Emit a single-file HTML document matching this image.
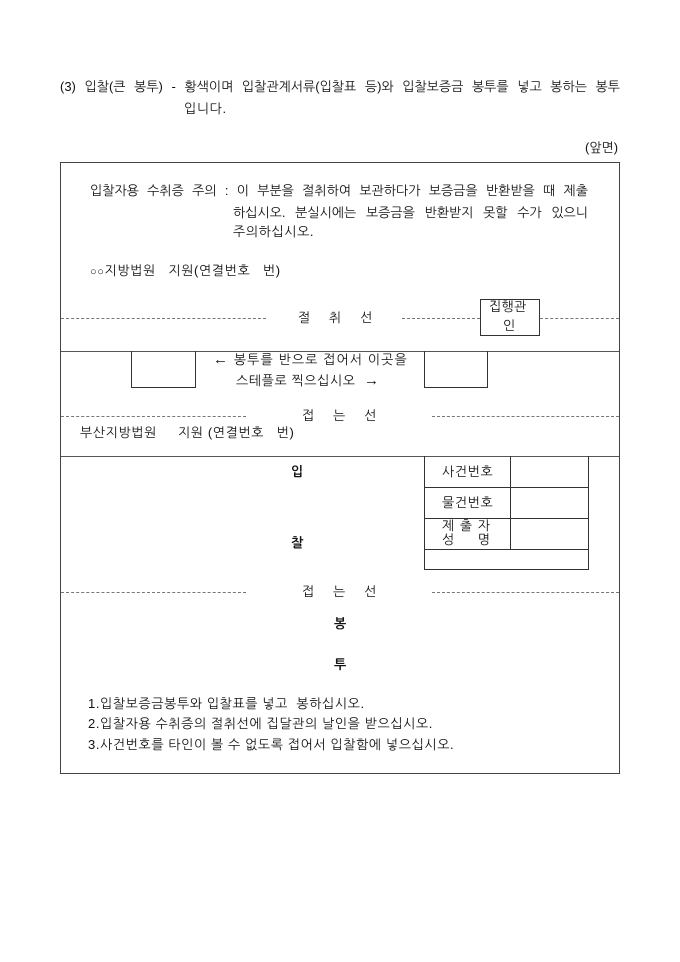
<!DOCTYPE html>
<html><head><meta charset="utf-8"><style>
body{margin:0;background:#fff;width:680px;height:962px;position:relative;overflow:hidden;font-family:"Liberation Sans","NanumGothic","Noto Sans CJK KR",sans-serif;font-size:13px;color:#111}
.t{position:absolute;white-space:nowrap;line-height:16px;letter-spacing:0.6px}
.j{position:absolute;white-space:nowrap;line-height:16px;text-align:justify;text-align-last:justify}
.b{position:absolute;border:1px solid #333;box-sizing:border-box}
.h{position:absolute;height:0;border-top:1px solid #555}
.d{position:absolute;height:0;border-top:1px dashed #777}
.v{position:absolute;width:0;border-left:1px solid #333}
</style></head><body>
<div class="j" style="left:60px;top:79px;width:560px">(3) 입찰(큰 봉투) - 황색이며 입찰관계서류(입찰표 등)와 입찰보증금 봉투를 넣고 봉하는 봉투</div>
<div class="t" style="left:184px;top:101px">입니다.</div>
<div class="t" style="left:585px;top:140px;letter-spacing:0">(앞면)</div>

<div class="b" style="left:60px;top:162px;width:560px;height:612px;border-color:#444"></div>

<div class="j" style="left:90px;top:183px;width:498px">입찰자용 수취증 주의 : 이 부분을 절취하여 보관하다가 보증금을 반환받을 때 제출</div>
<div class="j" style="left:233px;top:205px;width:355px">하십시오. 분실시에는 보증금을 반환받지 못할 수가 있으니</div>
<div class="t" style="left:233px;top:224px">주의하십시오.</div>
<div class="t" style="left:90px;top:263px"><span style="font-size:11px">○○</span>지방법원 &nbsp;&nbsp;지원(연결번호 &nbsp;&nbsp;번)</div>

<div class="d" style="left:61px;top:318px;width:205px"></div>
<div class="t" style="left:298px;top:310px;word-spacing:14px">절 취 선</div>
<div class="d" style="left:402px;top:318px;width:78px"></div>
<div class="b" style="left:480px;top:299px;width:60px;height:37px"></div>
<div class="t" style="left:489px;top:299px;letter-spacing:0.3px">집행관</div>
<div class="t" style="left:503px;top:318px">인</div>
<div class="d" style="left:540px;top:318px;width:79px"></div>

<div class="h" style="left:61px;top:351px;width:558px"></div>
<div class="b" style="left:131px;top:351px;width:65px;height:37px;border-top:none"></div>
<div class="b" style="left:424px;top:351px;width:64px;height:37px;border-top:none"></div>
<div class="t" style="left:213px;top:352px;letter-spacing:1.1px"><span style="font-size:15px">←</span> 봉투를 반으로 접어서 이곳을</div>
<div class="t" style="left:236px;top:373px">스테플로 찍으십시오 &nbsp;<span style="font-size:15px">→</span></div>

<div class="d" style="left:61px;top:416px;width:185px"></div>
<div class="t" style="left:302px;top:408px;word-spacing:14px">접 는 선</div>
<div class="d" style="left:432px;top:416px;width:187px"></div>
<div class="t" style="left:80px;top:425px">부산지방법원 &nbsp;&nbsp;&nbsp;&nbsp;지원 (연결번호 &nbsp;&nbsp;번)</div>

<div class="h" style="left:61px;top:456px;width:558px"></div>
<div class="t" style="left:291px;top:464px;font-weight:bold">입</div>
<div class="t" style="left:291px;top:535px;font-weight:bold">찰</div>

<div class="v" style="left:424px;top:456px;height:114px"></div>
<div class="v" style="left:510px;top:456px;height:93px"></div>
<div class="v" style="left:588px;top:456px;height:114px"></div>
<div class="h" style="left:424px;top:487px;width:165px;border-color:#333"></div>
<div class="h" style="left:424px;top:518px;width:165px;border-color:#333"></div>
<div class="h" style="left:424px;top:549px;width:165px;border-color:#333"></div>
<div class="h" style="left:424px;top:569px;width:165px;border-color:#333"></div>
<div class="t" style="left:442px;top:464px">사건번호</div>
<div class="t" style="left:442px;top:495px">물건번호</div>
<div class="j" style="left:442px;top:518px;width:48px">제 출 자</div>
<div class="j" style="left:442px;top:532px;width:48px">성 명</div>

<div class="d" style="left:61px;top:592px;width:185px"></div>
<div class="t" style="left:302px;top:584px;word-spacing:14px">접 는 선</div>
<div class="d" style="left:432px;top:592px;width:187px"></div>
<div class="t" style="left:334px;top:616px;font-weight:bold">봉</div>
<div class="t" style="left:334px;top:657px;font-weight:bold">투</div>

<div class="t" style="left:88px;top:696px">1.입찰보증금봉투와 입찰표를 넣고 &nbsp;봉하십시오.</div>
<div class="t" style="left:88px;top:716px">2.입찰자용 수취증의 절취선에 집달관의 날인을 받으십시오.</div>
<div class="t" style="left:88px;top:737px">3.사건번호를 타인이 볼 수 없도록 접어서 입찰함에 넣으십시오.</div>
</body></html>
